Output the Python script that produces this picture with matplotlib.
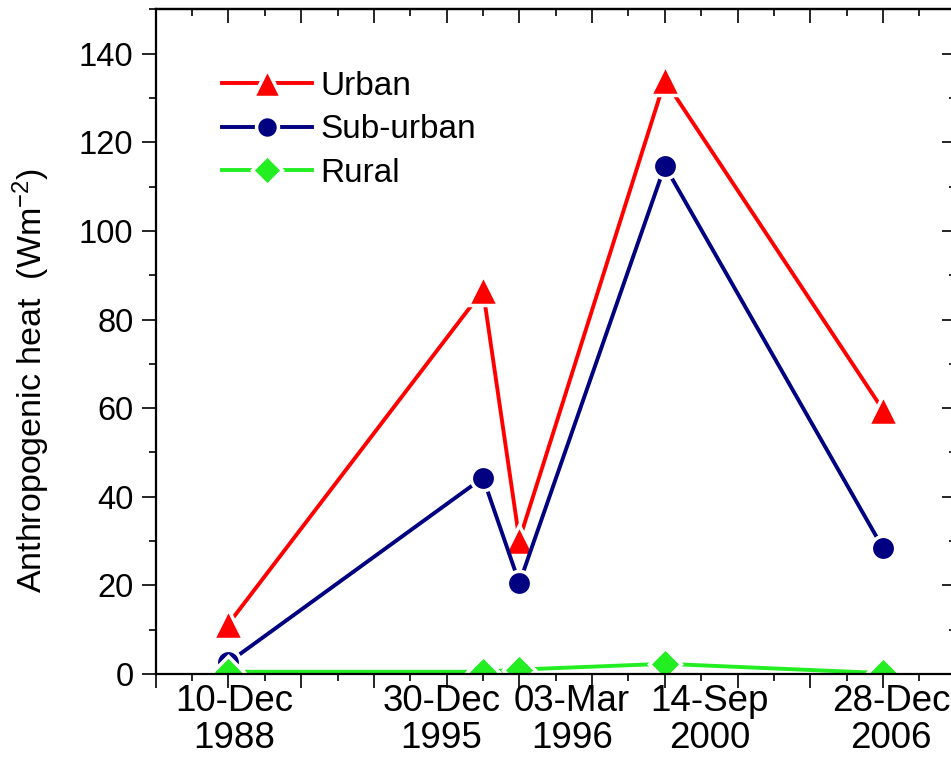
import matplotlib
matplotlib.use('Agg')
import matplotlib.pyplot as plt
from matplotlib.ticker import MultipleLocator, NullFormatter

plt.rcParams['font.family'] = ['Liberation Sans', 'DejaVu Sans']
plt.rcParams['mathtext.fontset'] = 'custom'
plt.rcParams['mathtext.rm'] = 'Liberation Sans'
plt.rcParams['mathtext.default'] = 'regular'

# 数据
dates = ['10-Dec\n1988', '30-Dec\n1995', '03-Mar\n1996', '14-Sep\n2000', '28-Dec\n2006']
x_pos = [1, 4.5, 5, 7, 10]
urban = [11.3, 86.6, 30.3, 134.0, 59.6]
suburban = [2.6, 44.3, 20.5, 114.7, 28.4]
rural = [0.5, 0.5, 1.0, 2.3, 0.2]
label_shift = [4, -30, 38, 32, 6]  # 日期标签的水平偏移(points)

fig = plt.figure(figsize=(9.51, 7.70), dpi=100)
ax = fig.add_axes([0.1637, 0.1247, 0.8413, 0.863])

# 白色描边让线条在标记处断开
common = dict(lw=2.8, mec='white', mew=2.5)
ax.plot(x_pos, urban, '-^', color='#ff0000', ms=22, label='Urban', **common)
ax.plot(x_pos, suburban, '-o', color='#000080', ms=17.5, label='Sub-urban', **common)
ax.plot(x_pos, rural, '-D', color='#22ee22', ms=16.5, label='Rural', **common)

ax.set_xlim(0, 11)
ax.set_ylim(0, 150)

ax.xaxis.set_major_locator(MultipleLocator(1))
ax.xaxis.set_minor_locator(MultipleLocator(0.5))
ax.yaxis.set_major_locator(MultipleLocator(20))
ax.yaxis.set_minor_locator(MultipleLocator(10))
ax.tick_params(which='major', direction='out', length=10, width=1.2, labelsize=23.5)
ax.tick_params(which='minor', direction='out', length=5, width=1.2)
ax.tick_params(axis='x', labelbottom=False)
ax.tick_params(axis='y', pad=6)
for s in ax.spines.values():
    s.set_linewidth(1.6)

# 顶部和右侧向内的刻度
top = ax.secondary_xaxis('top')
top.xaxis.set_major_locator(MultipleLocator(1))
top.xaxis.set_minor_locator(MultipleLocator(0.5))
top.xaxis.set_major_formatter(NullFormatter())
top.tick_params(which='major', direction='in', length=10, width=1.2)
top.tick_params(which='minor', direction='in', length=5, width=1.2)
top.spines['top'].set_linewidth(1.6)

right = ax.secondary_yaxis('right')
right.yaxis.set_major_locator(MultipleLocator(20))
right.yaxis.set_minor_locator(MultipleLocator(10))
right.yaxis.set_major_formatter(NullFormatter())
right.tick_params(which='major', direction='in', length=10, width=1.2)
right.tick_params(which='minor', direction='in', length=5, width=1.2)
right.spines['right'].set_linewidth(1.6)

# 日期标签
for xp, lab, sh in zip(x_pos, dates, label_shift):
    ax.annotate(lab, xy=(xp, 0), xycoords=('data', 'axes fraction'),
                xytext=(sh, -7), textcoords='offset points',
                ha='center', va='top', fontsize=26.5, linespacing=1.1,
                annotation_clip=False)

ax.set_ylabel('Anthropogenic heat  (Wm$^{-2}$)', fontsize=24.5)
ax.yaxis.set_label_coords(-0.13, 0.442)

ax.legend(loc='upper left', bbox_to_anchor=(0.083, 0.908), frameon=False,
          fontsize=24, handlelength=2.7, handletextpad=0.25,
          labelspacing=0.38, borderpad=0, borderaxespad=0, markerscale=0.9)

plt.savefig('out.png', dpi=100)
plt.close()
